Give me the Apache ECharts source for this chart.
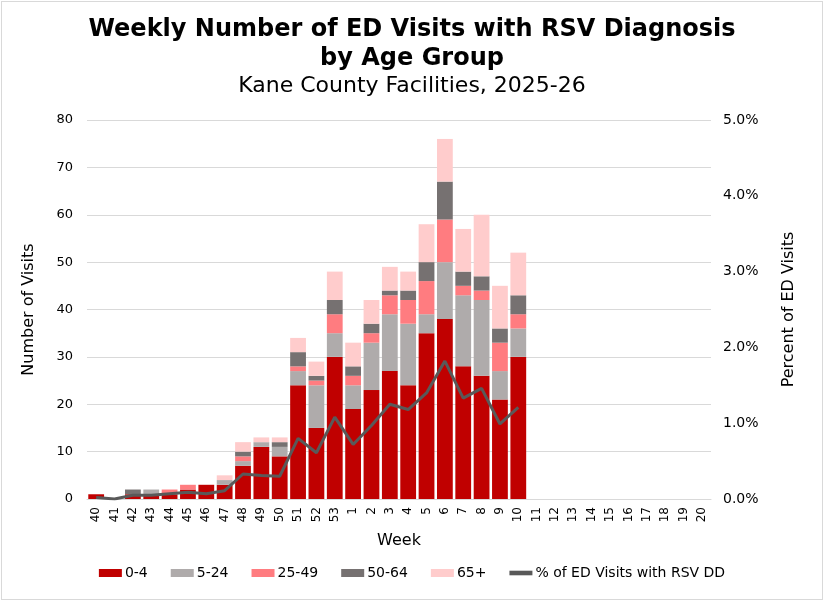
<!DOCTYPE html>
<html>
<head>
<meta charset="utf-8">
<script src="https://cdn.jsdelivr.net/npm/echarts@6/dist/echarts.min.js"></script>
<style>
html,body{margin:0;padding:0;background:#fff;}
#canvas{width:820px;height:597px;border:1px solid #d9d9d9;margin:1px;}
</style>
</head>
<body>
<div id="canvas"></div>
<script>
var weeks = ['40','41','42','43','44','45','46','47','48','49','50','51','52','53',
    '1','2','3','4','5','6','7','8','9','10','11','12','13','14','15','16','17','18','19','20'];
var age0_4   = [1,0,1,1,1,2,3,3,7,11,9,24,15,30,19,23,27,24,35,38,28,26,21,30];
var age5_24  = [0,0,0,1,0,0,0,1,1,1,2,3,9,5,5,10,12,13,4,12,15,16,6,6];
var age25_49 = [0,0,0,0,1,1,0,0,1,0,0,1,1,4,2,2,4,5,7,9,2,2,6,3];
var age50_64 = [0,0,1,0,0,0,0,0,1,0,1,3,1,3,2,2,1,2,4,8,3,3,3,4];
var age65    = [0,0,0,0,0,0,0,1,2,1,1,3,3,6,5,5,5,4,8,9,9,13,9,9];
var pctRSV   = [0.02,0.00,0.05,0.05,0.07,0.09,0.07,0.11,0.33,0.31,0.30,0.80,0.61,1.08,
    0.72,0.97,1.25,1.18,1.40,1.82,1.33,1.46,0.99,1.21];

var myChart = echarts.init(document.getElementById('canvas'));
var font = 'DejaVu Sans, Verdana, sans-serif';

function bar(name, data, color){
    return {
        name: name,
        type: 'bar',
        stack: 'age',
        barCategoryGap: '14%',
        data: data,
        itemStyle: {color: color}
    };
}

myChart.setOption({
    textStyle: {fontFamily: font},
    title: [
        {
            text: 'Weekly Number of ED Visits with RSV Diagnosis\nby Age Group',
            left: 'center',
            top: 8,
            textStyle: {fontSize: 24, fontWeight: 'bold', color: '#000', lineHeight: 29, fontFamily: font}
        },
        {
            text: 'Kane County Facilities, 2025-26',
            left: 'center',
            top: 68,
            textStyle: {fontSize: 22, fontWeight: 'normal', color: '#000', fontFamily: font}
        }
    ],
    legend: {
        bottom: 14,
        left: 'center',
        itemWidth: 23,
        itemHeight: 8,
        itemGap: 23,
        textStyle: {fontSize: 14, color: '#000', fontFamily: font, padding: [0, 0, 0, -2]},
        data: [
            {name: '0-4', icon: 'rect'},
            {name: '5-24', icon: 'rect'},
            {name: '25-49', icon: 'rect'},
            {name: '50-64', icon: 'rect'},
            {name: '65+', icon: 'rect'},
            {name: '% of ED Visits with RSV DD', icon: 'path://M0,3 L10,3 L10,5 L0,5 Z'}
        ]
    },
    grid: {left: 85, right: 111, top: 118, bottom: 100},
    xAxis: {
        type: 'category',
        data: weeks,
        name: 'Week',
        nameLocation: 'middle',
        nameGap: 34,
        nameTextStyle: {fontSize: 16, color: '#000', fontFamily: font},
        axisTick: {show: false},
        axisLine: {lineStyle: {color: '#d9d9d9'}},
        axisLabel: {rotate: 90, fontSize: 12, color: '#000', interval: 0, margin: 8}
    },
    yAxis: [
        {
            type: 'value',
            min: 0,
            max: 80,
            interval: 10,
            name: 'Number of Visits',
            nameLocation: 'middle',
            nameRotate: 90,
            nameGap: 50,
            nameTextStyle: {fontSize: 16, color: '#000', fontFamily: font},
            axisLabel: {fontSize: 13, color: '#000', margin: 14},
            splitLine: {lineStyle: {color: '#d9d9d9'}}
        },
        {
            type: 'value',
            min: 0,
            max: 5,
            interval: 1,
            name: 'Percent of ED Visits',
            nameLocation: 'middle',
            nameRotate: 90,
            nameGap: 70,
            nameTextStyle: {fontSize: 16, color: '#000', fontFamily: font},
            axisLabel: {
                fontSize: 14, color: '#000', margin: 12,
                formatter: function(v){ return v.toFixed(1) + '%'; }
            },
            splitLine: {show: false}
        }
    ],
    series: [
        bar('0-4', age0_4, '#C00000'),
        bar('5-24', age5_24, '#AFABAB'),
        bar('25-49', age25_49, '#FF7C80'),
        bar('50-64', age50_64, '#767171'),
        bar('65+', age65, '#FFCCCC'),
        {
            name: '% of ED Visits with RSV DD',
            type: 'line',
            yAxisIndex: 1,
            data: pctRSV,
            symbol: 'none',
            lineStyle: {color: '#595959', width: 3},
            itemStyle: {color: '#595959'},
            z: 10
        }
    ]
});
</script>
</body>
</html>
